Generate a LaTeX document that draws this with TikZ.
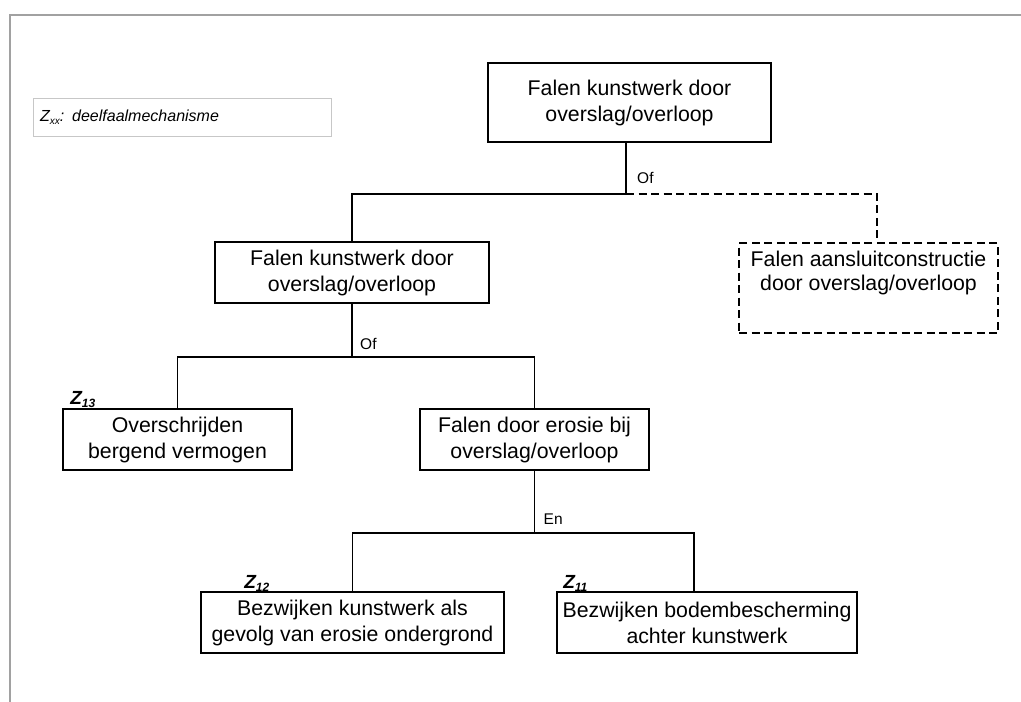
\documentclass[tikz,border=0pt]{standalone}
\usepackage{fontspec}
\setmainfont{Liberation Sans}
\usetikzlibrary{calc}
% lowered small index, e.g. Z with subscript 13
\newcommand\zsub[2][10.5]{\raisebox{-0.3ex}{\fontsize{#1}{#1}\selectfont #2}}
\begin{document}
\begin{tikzpicture}[x=1pt,y=-1pt,
  box/.style={draw=black, line width=1.8pt, rectangle, inner sep=0pt,
    align=center, font=\fontsize{21.3}{26}\selectfont},
  dashbox/.style={box, dash pattern=on 8pt off 4.5pt},
  wire/.style={draw=black, line width=1.8pt},
  dwire/.style={wire, dash pattern=on 8pt off 4.5pt},
  gate/.style={font=\fontsize{15.5}{16}\selectfont, inner sep=0pt, anchor=base west},
  zlab/.style={font=\fontsize{19}{19}\selectfont\bfseries\itshape, inner sep=0pt, anchor=base west},
  frame/.style={draw=black!37, line width=2pt}]
\useasboundingbox (0,0) rectangle (1021,702);

% page frame
\draw[frame] (10,702) -- (10,15) -- (1021,15);

% legend
\node[draw=black!22, line width=0.9pt, minimum width=298pt, minimum height=38pt,
      text width=284pt, inner xsep=7pt, inner ysep=0pt, align=left,
      font=\fontsize{16}{16}\selectfont\itshape] (leg) at (182,117)
      {Z\zsub[10]{xx}: deelfaalmechanisme};

% fault tree boxes
\node[box, minimum width=283pt, minimum height=79pt] (A) at (629.5,102.5)
  {Falen kunstwerk door\\overslag/overloop};
\node[box, minimum width=274pt, minimum height=61pt] (B) at (352,272.5)
  {Falen kunstwerk door\\overslag/overloop};
\node[dashbox, minimum width=259pt, minimum height=90pt] (D) at (868.5,288) {};
\node[inner sep=0pt, align=center, anchor=north, font=\fontsize{21.3}{23.5}\selectfont]
  (Dt) at ($(D.north)+(0,9)$) {Falen aansluitconstructie\\door overslag/overloop};
\node[box, minimum width=229pt, minimum height=61pt] (C) at (177.5,439.5)
  {Overschrijden\\bergend vermogen};
\node[box, minimum width=229pt, minimum height=61pt] (E) at (534.5,439.5)
  {Falen door erosie bij\\overslag/overloop};
\node[box, minimum width=303pt, minimum height=61pt] (F) at (352.5,622.5)
  {Bezwijken kunstwerk als\\gevolg van erosie ondergrond};
\node[box, minimum width=300pt, minimum height=61pt] (G) at (707,622.5)
  {Bezwijken bodembescherming\\achter kunstwerk};

% connectors
\draw[wire] ($(A.south)+(-3.5,0)$) -- ++(0,51) coordinate (j1);
\draw[wire] (j1) -| (B.north);
\draw[dwire] (j1) -| ($(D.north)+(8.5,0)$);
\draw[wire] (B.south) -- ++(0,53) coordinate (j2);
\draw[wire] (j2) -| (C.north);
\draw[wire] (j2) -| (E.north);
\draw[wire] (E.south) -- ++(0,62) coordinate (j3);
\draw[wire] (j3) -| (F.north);
\draw[wire] (j3) -| ($(G.north)+(-13,0)$);

% gate labels
\node[gate] (g1) at ($(j1)+(11,-10)$) {Of};
\node[gate] (g2) at ($(j2)+(8,-7)$) {Of};
\node[gate] (g3) at ($(j3)+(9,-8)$) {En};

% mechanism labels
\node[zlab] (z13) at ($(C.north west)+(8,-4)$) {Z\zsub[12]{13}};
\node[zlab] (z12) at ($(F.north west)+(44,-3)$) {Z\zsub[12]{12}};
\node[zlab] (z11) at ($(G.north west)+(7,-3)$) {Z\zsub[12]{11}};
\end{tikzpicture}
\end{document}
